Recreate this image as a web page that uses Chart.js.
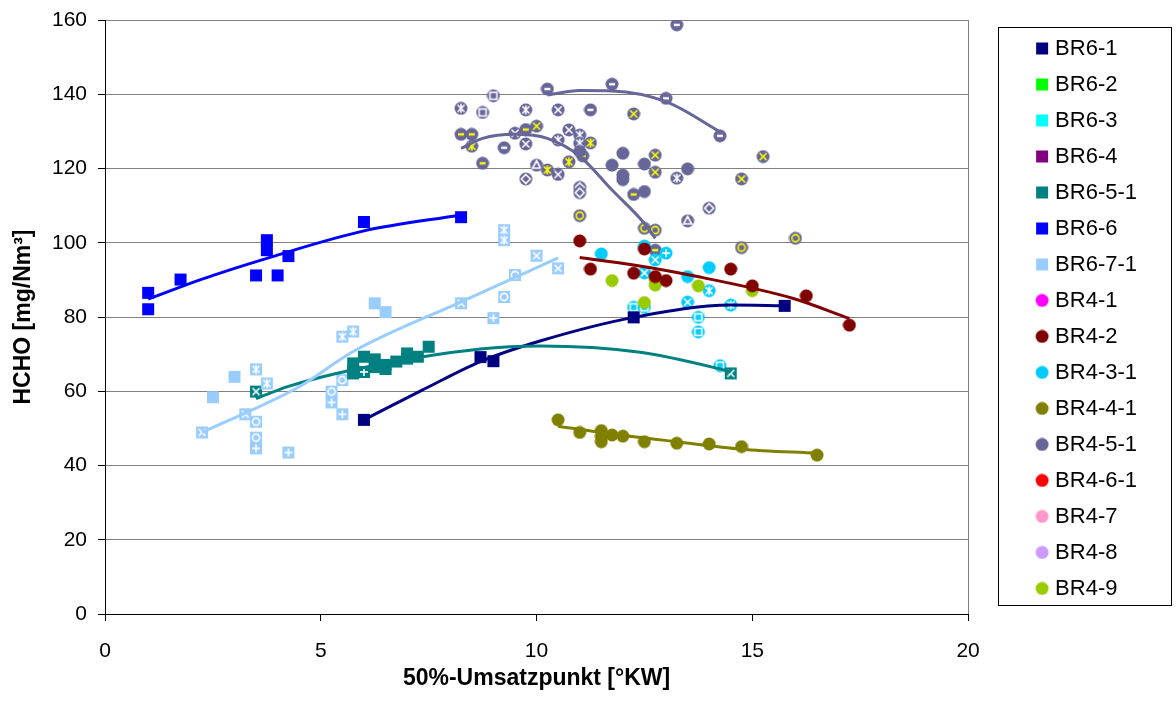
<!DOCTYPE html>
<html>
<head>
<meta charset="utf-8">
<title>HCHO über 50%-Umsatzpunkt</title>
<script src="https://cdn.jsdelivr.net/npm/chart.js@4/dist/chart.umd.min.js"></script>
<style>
  html, body { margin: 0; padding: 0; background: #fff; }
  #wrap { width: 1176px; height: 705px; }
</style>
</head>
<body>
<div id="wrap"><canvas id="chart"></canvas></div>
<script>
// axis ranges
const xRange = [0, 20, 5];
const yRange = [0, 160, 20];

// measured points [50%-Umsatzpunkt, HCHO]
const br6_1 = [[6.0, 52.3], [8.7, 69.2], [9.0, 68.1], [12.25, 79.9], [15.75, 83.0]];
const br6_2 = [];
const br6_3 = [];
const br6_4 = [];
const br6_5_1 = [[5.75, 64.8], [5.75, 67.5], [6.0, 69.3], [6.25, 66.5], [6.25, 68.6], [6.5, 67.1],
                 [6.5, 66.0], [6.75, 68.0], [7.0, 70.2], [7.0, 68.8], [7.25, 69.3], [7.5, 72.0]];
const br6_6 = [[1.0, 86.5], [1.0, 82.1], [1.75, 90.1], [3.5, 91.2], [3.75, 100.7], [3.75, 98.0],
               [4.0, 91.2], [4.25, 96.4], [6.0, 105.6], [8.25, 106.9]];
const br6_7_1 = [[2.5, 58.4], [3.0, 63.9], [6.25, 83.7], [6.5, 81.3]];
const br4_1 = [];
const br4_2 = [[11.0, 100.5], [11.25, 92.9], [12.25, 91.8], [12.5, 98.3], [12.75, 90.9], [13.0, 89.8],
               [14.5, 92.9], [15.0, 88.4], [16.25, 85.7], [17.25, 77.8]];
const br4_3_1 = [[11.5, 97.0], [13.5, 90.9], [14.0, 93.3]];
const br4_4_1 = [[10.5, 52.3], [11.0, 48.9], [11.5, 49.4], [11.5, 47.8], [11.5, 46.4], [11.75, 48.2],
                 [12.0, 47.9], [12.5, 46.4], [13.25, 46.0], [14.0, 45.8], [14.75, 45.1], [16.5, 42.8]];
const br4_5_1 = [[11.0, 124.6], [12.0, 124.1], [11.75, 120.9], [12.5, 121.2], [13.5, 119.9],
                 [12.0, 118.2], [12.0, 117.0], [12.5, 113.8]];
const br4_6_1 = [];
const br4_7 = [];
const br4_8 = [];
const br4_9 = [[11.75, 89.8], [12.75, 90.0], [12.75, 88.6], [12.5, 83.9], [13.75, 88.4], [15.0, 87.1]];

// further runs of the same burners (not listed in the legend)
const br6_7Cross = [[2.25, 48.9], [3.25, 53.8], [8.25, 83.7], [10.0, 96.5], [10.5, 93.1]];
const br6_7Star = [[3.5, 65.9], [3.75, 62.1], [5.5, 74.7], [5.75, 76.1], [9.25, 103.4], [9.25, 100.7]];
const br6_7Ring = [[3.5, 51.8], [3.5, 47.5], [5.25, 59.9], [5.5, 63.0], [9.25, 85.4], [9.5, 91.3]];
const br6_7Plus = [[3.5, 44.6], [4.25, 43.5], [5.25, 57.0], [5.5, 53.8], [9.0, 79.7]];
const br6_5Cross = [[3.5, 59.9], [5.75, 65.5], [14.5, 64.8]];
const br6_5Plus = [[6.0, 65.2]];
const br4_3Plus = [[12.5, 99.1], [13.0, 97.2]];
const br4_3Cross = [[12.75, 95.4], [12.5, 91.9], [13.5, 84.0]];
const br4_3Star = [[14.0, 87.1], [14.5, 83.2]];
const br4_3Square = [[12.25, 82.6], [12.5, 82.6], [13.75, 79.9], [13.75, 76.0], [14.25, 66.9]];
const br4_5Dash = [[13.25, 158.7], [10.25, 141.4], [11.75, 142.7], [13.0, 138.9], [14.25, 128.8],
                   [11.25, 135.8], [9.25, 125.6]];
const br4_5DashY = [[8.25, 129.2], [8.5, 129.2], [8.75, 121.4], [9.75, 130.5], [11.07, 123.4],
                    [12.25, 113.0], [12.75, 98.0]];
const br4_5Square = [[9.0, 139.6], [8.75, 135.1]];
const br4_5Star = [[8.25, 136.2], [9.75, 135.8], [11.0, 129.0], [10.5, 127.7], [11.0, 126.8], [13.25, 117.4]];
const br4_5StarY = [[11.25, 126.9], [10.25, 119.6], [10.75, 121.8], [8.5, 126.0]];
const br4_5Cross = [[10.5, 135.8], [9.5, 129.5], [9.75, 126.6], [10.75, 130.4], [10.5, 118.4]];
const br4_5CrossY = [[12.25, 134.7], [10.0, 131.4], [12.75, 123.6], [12.75, 119.0], [15.25, 123.2], [14.75, 117.2]];
const br4_5Tri = [[10.0, 120.9], [13.5, 105.9]];
const br4_5Diamond = [[9.75, 117.2], [11.0, 114.9], [11.0, 113.5], [14.0, 109.3]];
const br4_5RingY = [[11.0, 107.3], [12.5, 103.9], [12.75, 103.4], [14.75, 98.7], [16.0, 101.2]];

// trend curves
const trendBr6_6 = [[1.0, 84.8], [2.2, 90.0], [3.75, 95.8], [6.0, 103.2], [8.25, 107.5]];
const trendBr6_7 = [[2.25, 48.9], [4.5, 61.2], [5.75, 70.7], [8.25, 84.1], [10.5, 95.9]];
const trendBr6_5 = [[3.5, 58.0], [4.25, 61.3], [5.75, 65.8], [8.7, 71.4], [10.1, 72.2], [12.4, 70.5],
                    [14.25, 66.0], [14.5, 65.2]];
const trendBr6_1 = [[6.0, 52.3], [7.35, 60.3], [8.7, 68.0], [10.1, 73.6], [12.25, 79.9], [14.5, 83.2], [15.75, 83.0]];
const trendBr4_2 = [[11.0, 96.0], [12.25, 94.0], [13.55, 91.3], [15.95, 85.0], [17.25, 79.6]];
const trendBr4_4 = [[10.5, 50.6], [11.5, 48.9], [13.25, 46.4], [14.75, 44.4], [16.5, 43.3]];
const trendBr4_5a = [[10.25, 139.8], [11.0, 141.0], [11.75, 140.9], [13.0, 138.0], [14.25, 129.9]];
const trendBr4_5b = [[8.25, 125.4], [8.75, 128.1], [9.5, 129.2], [10.25, 128.1], [11.0, 123.3],
                     [11.75, 114.2], [12.5, 105.2], [12.75, 101.2]];

const FONT = "'Liberation Sans', Arial, sans-serif";
const WHITE = '#ffffff';
const YELLOW = '#ffff00';

// draws a marker (optionally with a glyph on top) into a small canvas
function makeMarker(shape, fill, glyph, ink, offset = 0, width = 14) {
    const c = document.createElement('canvas');
    c.width = width;
    c.height = 14;
    const g = c.getContext('2d');
    const cx = width / 2 + offset;
    const cy = 7;
    g.fillStyle = fill;
    if (shape === 'rect') {
        g.fillRect(cx - 6, cy - 6, 12, 12);
    } else {
        g.beginPath();
        g.arc(cx, cy, 6.5, 0, Math.PI * 2);
        g.fill();
    }
    if (!glyph) return c;

    g.strokeStyle = ink;
    g.lineWidth = 1.6;
    g.lineCap = 'butt';
    const line = (x1, y1, x2, y2) => {
        g.beginPath();
        g.moveTo(cx + x1, cy + y1);
        g.lineTo(cx + x2, cy + y2);
        g.stroke();
    };
    switch (glyph) {
        case 'cross':
            line(-3.5, -3.5, 3.5, 3.5);
            line(3.5, -3.5, -3.5, 3.5);
            break;
        case 'plus':
            line(-4, 0, 4, 0);
            line(0, -4, 0, 4);
            break;
        case 'star':
            line(-3.5, -3.5, 3.5, 3.5);
            line(3.5, -3.5, -3.5, 3.5);
            line(0, -4.5, 0, 4.5);
            break;
        case 'dash':
            g.lineWidth = 2.4;
            line(-3, 0, 3, 0);
            break;
        case 'ring':
            g.beginPath();
            g.arc(cx, cy, 3.6, 0, Math.PI * 2);
            g.stroke();
            break;
        case 'square':
            g.strokeRect(cx - 3.5, cy - 3.5, 7, 7);
            break;
        case 'diamond':
            g.beginPath();
            g.moveTo(cx, cy - 4.5);
            g.lineTo(cx + 4.5, cy);
            g.lineTo(cx, cy + 4.5);
            g.lineTo(cx - 4.5, cy);
            g.closePath();
            g.stroke();
            break;
        case 'triangle':
            g.beginPath();
            g.moveTo(cx, cy - 4.5);
            g.lineTo(cx + 4, cy + 3);
            g.lineTo(cx - 4, cy + 3);
            g.closePath();
            g.stroke();
            break;
    }
    return c;
}

const toPoints = arr => arr.map(([x, y]) => ({ x, y }));

function series(label, data, shape, color, glyph = null, ink = WHITE, inLegend = true) {
    return {
        label,
        data: toPoints(data),
        pointStyle: makeMarker(shape, color, glyph, ink),
        pointRadius: 7,
        pointHoverRadius: 7,
        showLine: false,
        order: 2,
        legendShape: inLegend ? shape : null,
        legendColor: color
    };
}

function trend(label, data, color) {
    return {
        label,
        data: toPoints(data),
        showLine: true,
        borderColor: color,
        borderWidth: 3,
        pointRadius: 0,
        pointHoverRadius: 0,
        cubicInterpolationMode: 'monotone',
        fill: false,
        order: 1,
        legendShape: null
    };
}

const datasets = [
    series('BR6-1', br6_1, 'rect', '#000080'),
    series('BR6-2', br6_2, 'rect', '#00ff00'),
    series('BR6-3', br6_3, 'rect', '#00ffff'),
    series('BR6-4', br6_4, 'rect', '#800080'),
    series('BR6-5-1', br6_5_1, 'rect', '#008080'),
    series('BR6-6', br6_6, 'rect', '#0000ff'),
    series('BR6-7-1', br6_7_1, 'rect', '#99ccff'),
    series('BR4-1', br4_1, 'circle', '#ff00ff'),
    series('BR4-2', br4_2, 'circle', '#800000'),
    series('BR4-3-1', br4_3_1, 'circle', '#00ccff'),
    series('BR4-4-1', br4_4_1, 'circle', '#808000'),
    series('BR4-5-1', br4_5_1, 'circle', '#666699'),
    series('BR4-6-1', br4_6_1, 'circle', '#ff0000'),
    series('BR4-7', br4_7, 'circle', '#ff99cc'),
    series('BR4-8', br4_8, 'circle', '#cc99ff'),
    series('BR4-9', br4_9, 'circle', '#99cc00'),

    series('BR6-7-2', br6_7Cross, 'rect', '#99ccff', 'cross', WHITE, false),
    series('BR6-7-3', br6_7Star, 'rect', '#99ccff', 'star', WHITE, false),
    series('BR6-7-4', br6_7Ring, 'rect', '#99ccff', 'ring', WHITE, false),
    series('BR6-7-5', br6_7Plus, 'rect', '#99ccff', 'plus', WHITE, false),
    series('BR6-5-2', br6_5Cross, 'rect', '#008080', 'cross', WHITE, false),
    series('BR6-5-3', br6_5Plus, 'rect', '#008080', 'plus', WHITE, false),
    series('BR4-3-2', br4_3Plus, 'circle', '#00ccff', 'plus', WHITE, false),
    series('BR4-3-3', br4_3Cross, 'circle', '#00ccff', 'cross', WHITE, false),
    series('BR4-3-4', br4_3Star, 'circle', '#00ccff', 'star', WHITE, false),
    series('BR4-3-5', br4_3Square, 'circle', '#00ccff', 'square', WHITE, false),
    series('BR4-5-2', br4_5Dash, 'circle', '#666699', 'dash', WHITE, false),
    series('BR4-5-3', br4_5DashY, 'circle', '#666699', 'dash', YELLOW, false),
    series('BR4-5-4', br4_5Square, 'circle', '#666699', 'square', WHITE, false),
    series('BR4-5-5', br4_5Star, 'circle', '#666699', 'star', WHITE, false),
    series('BR4-5-6', br4_5StarY, 'circle', '#666699', 'star', YELLOW, false),
    series('BR4-5-7', br4_5Cross, 'circle', '#666699', 'cross', WHITE, false),
    series('BR4-5-8', br4_5CrossY, 'circle', '#666699', 'cross', YELLOW, false),
    series('BR4-5-9', br4_5Tri, 'circle', '#666699', 'triangle', WHITE, false),
    series('BR4-5-10', br4_5Diamond, 'circle', '#666699', 'diamond', WHITE, false),
    series('BR4-5-11', br4_5RingY, 'circle', '#666699', 'ring', YELLOW, false),

    trend('Trend BR6-6', trendBr6_6, '#0000ff'),
    trend('Trend BR6-7', trendBr6_7, '#99ccff'),
    trend('Trend BR6-5', trendBr6_5, '#008080'),
    trend('Trend BR6-1', trendBr6_1, '#000080'),
    trend('Trend BR4-2', trendBr4_2, '#800000'),
    trend('Trend BR4-4', trendBr4_4, '#808000'),
    trend('Trend BR4-5a', trendBr4_5a, '#666699'),
    trend('Trend BR4-5b', trendBr4_5b, '#666699')
];

// frame around the legend
const legendFrame = {
    id: 'legendFrame',
    afterDraw(chart) {
        const { ctx, chartArea, legend } = chart;
        const left = Math.round(legend.left + 30) + 0.5;
        const right = chart.width - 4.5;
        const top = Math.round(chartArea.top + 7) + 0.5;
        const bottom = Math.round(chartArea.bottom - 9) + 0.5;
        ctx.save();
        ctx.strokeStyle = '#000';
        ctx.lineWidth = 1;
        ctx.strokeRect(left, top, right - left, bottom - top);
        ctx.restore();
    }
};

const tickFont = { family: FONT, size: 21 };
const titleFont = { family: FONT, size: 23, weight: 'bold' };

new Chart(document.getElementById('chart'), {
    type: 'scatter',
    data: { datasets },
    options: {
        responsive: true,
        maintainAspectRatio: false,
        animation: false,
        layout: { padding: { top: 20, right: 29, bottom: 0, left: 0 } },
        scales: {
            x: {
                type: 'linear',
                min: xRange[0],
                max: xRange[1],
                ticks: { stepSize: xRange[2], font: tickFont, color: '#000', padding: 18 },
                grid: {
                    color: ctx => (ctx.tick && ctx.tick.value === xRange[1]) ? '#808080' : 'rgba(0,0,0,0)',
                    tickColor: '#000',
                    tickLength: 7,
                    lineWidth: 1
                },
                border: { color: '#000', width: 1 },
                title: {
                    display: true,
                    text: '50%-Umsatzpunkt [°KW]',
                    font: titleFont,
                    color: '#000',
                    padding: { top: 0, bottom: 13 }
                },
                afterFit: scale => { scale.height = 91; }
            },
            y: {
                type: 'linear',
                min: yRange[0],
                max: yRange[1],
                ticks: { stepSize: yRange[2], font: tickFont, color: '#000', padding: 11 },
                grid: { color: '#808080', tickColor: '#000', tickLength: 7, lineWidth: 1 },
                border: { color: '#000', width: 1 },
                title: {
                    display: true,
                    text: 'HCHO [mg/Nm³]',
                    font: titleFont,
                    color: '#000',
                    padding: { top: 10, bottom: 0 }
                },
                afterFit: scale => {
                    scale.width = 105;
                    // labels may overhang the plot; keep the plot top at the layout padding
                    scale.paddingTop = 0;
                    scale.paddingBottom = 0;
                }
            }
        },
        plugins: {
            tooltip: { enabled: false },
            legend: {
                position: 'right',
                align: 'start',
                title: { display: true, text: '', font: { size: 2.9 }, padding: 0 },
                labels: {
                    usePointStyle: true,
                    pointStyleWidth: 62,
                    padding: 14,
                    color: '#000',
                    font: { family: FONT, size: 22 },
                    generateLabels: chart => chart.data.datasets
                        .map((ds, i) => ({ ds, i }))
                        .filter(({ ds }) => ds.legendShape)
                        .map(({ ds, i }) => ({
                            text: ds.label,
                            fillStyle: ds.legendColor,
                            strokeStyle: ds.legendColor,
                            lineWidth: 0,
                            pointStyle: makeMarker(ds.legendShape, ds.legendColor, null, null, 29, 74),
                            hidden: false,
                            datasetIndex: i,
                            fontColor: '#000'
                        }))
                }
            }
        }
    },
    plugins: [legendFrame]
});
</script>
</body>
</html>
